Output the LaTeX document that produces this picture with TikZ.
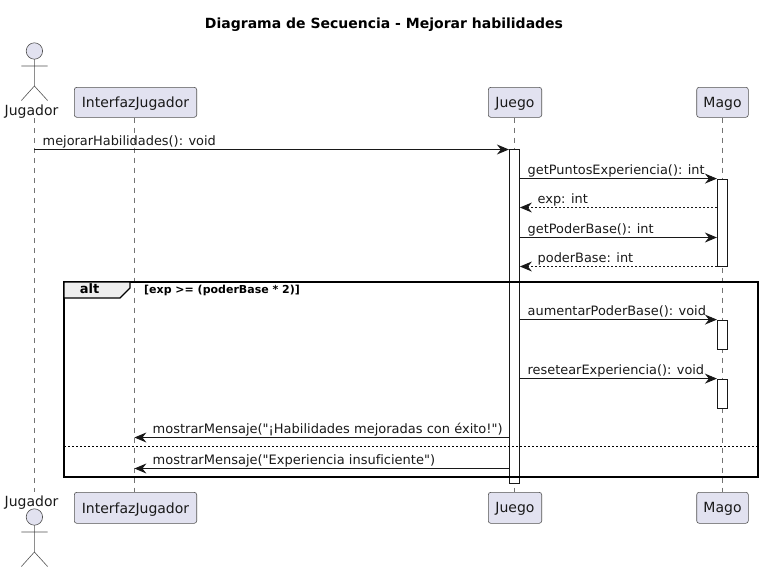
\documentclass[tikz,border=0pt]{standalone}
\usepackage{fontspec}
\setmainfont{DejaVu Sans}[Ligatures=NoCommon]
\newfontfamily\plainfont{DejaVu Sans}[Ligatures=NoCommon]
\usetikzlibrary{arrows.meta}
\definecolor{partfill}{HTML}{E2E2F0}
\definecolor{partline}{HTML}{181818}
\definecolor{tabfill}{HTML}{EEEEEE}
\tikzset{
  x=1pt,y=-1pt,
  part/.style={draw=partline!75,line width=.6pt,fill=partfill,rounded corners=2.5pt,inner sep=0pt,font=\plainfont\fontsize{14}{16}\selectfont,text=black!90,text depth=0pt},
  life/.style={draw=black!55,line width=.6pt,dash pattern=on 5pt off 5pt},
  act/.style={draw=partline,line width=1pt,fill=white,minimum width=10pt,inner sep=0pt,anchor=north},
  stickman/.style={draw=partline!75,line width=.6pt},
  actorlabel/.style={font=\plainfont\fontsize{14}{16}\selectfont,text=black!90,inner sep=0pt,anchor=base},
  msg/.style={draw=partline,line width=1pt,-{Stealth[length=12pt,width=10pt,inset=4pt]}},
  reply/.style={msg,dash pattern=on 2pt off 2pt},
  mlabel/.style={anchor=base west,inner sep=0pt,font=\plainfont\fontsize{12.9}{15}\selectfont,text=black!90},
  wlabel/.style={anchor=base west,inner sep=0pt,font=\plainfont\fontsize{13}{15}\selectfont,text=black!90},
  frameline/.style={draw=black,line width=2pt},
}
\begin{document}
\begin{tikzpicture}
\useasboundingbox (0,0) rectangle (764,573);
\node[font=\plainfont\bfseries\fontsize{14}{16}\selectfont,anchor=base] (title) at (384,28) {Diagrama de Secuencia - Mejorar habilidades};
% participants
\node[part,minimum width=122.4pt,minimum height=30pt] (it) at (135.5,102.3) {InterfazJugador};
\node[part,minimum width=53.4pt,minimum height=30pt] (jt) at (515,102.3) {Juego};
\node[part,minimum width=51.6pt,minimum height=30pt] (mt) at (722.5,102.3) {Mago};
\node[part,minimum width=122.4pt,minimum height=31pt] (ib) at (135.5,507.8) {InterfazJugador};
\node[part,minimum width=53.4pt,minimum height=31pt] (jb) at (515,507.8) {Juego};
\node[part,minimum width=51.6pt,minimum height=31pt] (mb) at (722.5,507.8) {Mago};
\node[actorlabel] (at) at (31.5,115) {Jugador};
\node[actorlabel] (ab) at (31.5,506.5) {Jugador};
\coordinate (atl) at (34.4,118);
\coordinate (abl) at (34.4,492);
\coordinate (itl) at (134.4,117.5);
\coordinate (ibl) at (134.4,492.3);
\coordinate (jtl) at (514.4,117.5);
\coordinate (jbl) at (514.4,492.3);
\coordinate (mtl) at (722.4,117.5);
\coordinate (mbl) at (722.4,492.3);
\draw[life] (atl) -- (abl);
\draw[life] (itl) -- (ibl);
\draw[life] (jtl) -- (jbl);
\draw[life] (mtl) -- (mbl);
% actors
\foreach \yy in {51,517}{
  \draw[stickman,fill=partfill] (34.4,\yy) circle (8.2);
  \draw[stickman] (34.4,\yy+8.2) -- (34.4,\yy+35) (21.4,\yy+15) -- (47.6,\yy+15)
     (21.4,\yy+49.5) -- (34.4,\yy+35) -- (47.6,\yy+49.5);
}
% activations
\node[act,minimum height=333.5pt] (ja) at (514.4,149.3) {};
\node[act,minimum height=87.5pt] (ma1) at (722.4,178.6) {};
\node[act,minimum height=29.5pt] (ma2) at (722.4,319.6) {};
\node[act,minimum height=29.5pt] (ma3) at (722.4,378.6) {};
% frame
\draw[frameline] (64,282) rectangle (758.3,476.5);
\draw[draw=black,line width=1.2pt,fill=tabfill] (64,282) -- (130,282) -- (130,288) -- (120,298) -- (64,298) -- cycle;
\node[font=\plainfont\bfseries\fontsize{13}{15}\selectfont,anchor=base,inner sep=0pt] (altl) at (89.5,293.5) {alt};
\node[font=\plainfont\bfseries\fontsize{11}{13}\selectfont,anchor=base west,inner sep=0pt] (cond) at (144,293) {[exp >= (poderBase * 2)]};
\coordinate (dl) at (64,446);
\coordinate (dr) at (758.3,446);
\draw[draw=black,line width=1pt,dash pattern=on 2pt off 2pt] (dl) -- (dr);
% messages
\coordinate (a0) at (34.4,149.5);
\draw[msg] (a0) -- (ja.west |- a0);
\node[mlabel] at (42.5,145.5) {mejorarHabilidades(): void};
\coordinate (y0) at (0,178.6);
\draw[msg] (ja.east |- y0) -- (ma1.west |- y0);
\node[mlabel] at (527.5,174.5) {getPuntosExperiencia(): int};
\coordinate (y1) at (0,207.5);
\draw[reply] (ma1.west |- y1) -- (ja.east |- y1);
\node[mlabel] at (537.5,203.5) {exp: int};
\coordinate (y2) at (0,237.5);
\draw[msg] (ja.east |- y2) -- (ma1.west |- y2);
\node[mlabel] at (527.5,233) {getPoderBase(): int};
\coordinate (y2b) at (0,266.5);
\draw[reply] (ma1.west |- y2b) -- (ja.east |- y2b);
\node[mlabel] at (537.5,262) {poderBase: int};
\coordinate (y5) at (0,319.6);
\draw[msg] (ja.east |- y5) -- (ma2.west |- y5);
\node[mlabel] at (527.5,315) {aumentarPoderBase(): void};
\coordinate (y6) at (0,378.6);
\draw[msg] (ja.east |- y6) -- (ma3.west |- y6);
\node[mlabel] at (527.5,374) {resetearExperiencia(): void};
\coordinate (y3) at (0,437.5);
\draw[msg] (ja.west |- y3) -- (itl |- y3);
\node[wlabel] at (152.5,433) {mostrarMensaje("¡Habilidades mejoradas con éxito!")};
\coordinate (y4) at (0,468.5);
\draw[msg] (ja.west |- y4) -- (itl |- y4);
\node[wlabel] at (152.5,464) {mostrarMensaje("Experiencia insuficiente")};
\end{tikzpicture}
\end{document}
